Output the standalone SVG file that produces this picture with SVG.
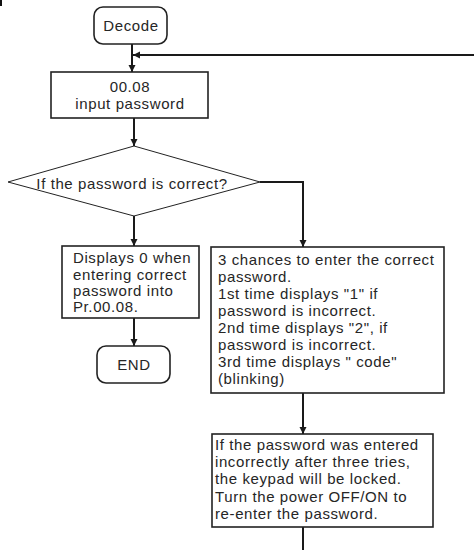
<svg xmlns="http://www.w3.org/2000/svg" width="474" height="550" viewBox="0 0 474 550">
<style>
.box{fill:#fff;stroke:#222;stroke-width:1.6}
.ln{fill:none;stroke:#1a1a1a;stroke-width:2}
.t{font-family:"Liberation Sans",Arial,sans-serif;font-size:15px;letter-spacing:0.6px;fill:#262626}
.c{text-anchor:middle}
</style>
<defs>
<marker id="ah" markerWidth="8" markerHeight="8" refX="7" refY="4" orient="auto" markerUnits="userSpaceOnUse">
<path d="M0,0.5 L7,4 L0,7.5 Z" fill="#1a1a1a"/>
</marker>
</defs>
<rect x="0" y="0" width="2" height="6" fill="#111"/>
<g id="connectors">
<line class="ln" x1="132" y1="44" x2="132" y2="72" marker-end="url(#ah)"/>
<line class="ln" x1="474" y1="55" x2="133" y2="55" marker-end="url(#ah)"/>
<line class="ln" x1="134" y1="118" x2="134" y2="146" marker-end="url(#ah)"/>
<polyline class="ln" points="260,182 303,182 303,247" marker-end="url(#ah)"/>
<line class="ln" x1="134" y1="216" x2="134" y2="246" marker-end="url(#ah)"/>
<line class="ln" x1="134" y1="318" x2="134" y2="346" marker-end="url(#ah)"/>
<line class="ln" x1="303" y1="393" x2="303" y2="434" marker-end="url(#ah)"/>
<line class="ln" x1="303" y1="527" x2="303" y2="550"/>
</g>
<g id="decode">
<rect class="box" x="94" y="7" width="73" height="37" rx="9"/>
<text class="t c" x="131" y="31">Decode</text>
</g>
<g id="input">
<rect class="box" x="51" y="72" width="157" height="46"/>
<text class="t c" x="130" y="92">00.08</text>
<text class="t c" x="130" y="109">input password</text>
</g>
<g id="decision">
<polygon fill="#fff" stroke="#222" stroke-width="1" points="134,146 260,182 134,216 8,182"/>
<text class="t c" x="132" y="189">If the password is correct?</text>
</g>
<g id="correct">
<rect class="box" x="62" y="246" width="137" height="72"/>
<text class="t" x="73" y="263">Displays 0 when</text>
<text class="t" x="73" y="279.5">entering correct</text>
<text class="t" x="73" y="296">password into</text>
<text class="t" x="73" y="312">Pr.00.08.</text>
</g>
<g id="end">
<rect class="box" x="97" y="346" width="73" height="37" rx="9"/>
<text class="t c" x="134" y="370">END</text>
</g>
<g id="chances">
<rect class="box" x="211" y="247" width="233" height="146"/>
<text class="t" x="218" y="265">3 chances to enter the correct</text>
<text class="t" x="218" y="282">password.</text>
<text class="t" x="218" y="299">1st time displays "1" if</text>
<text class="t" x="218" y="316">password is incorrect.</text>
<text class="t" x="218" y="333">2nd time displays "2", if</text>
<text class="t" x="218" y="350">password is incorrect.</text>
<text class="t" x="218" y="367">3rd time displays " code"</text>
<text class="t" x="218" y="384">(blinking)</text>
</g>
<g id="locked">
<rect class="box" x="212" y="434" width="221" height="93"/>
<text class="t" x="215" y="450">If the password was entered</text>
<text class="t" x="215" y="467">incorrectly after three tries,</text>
<text class="t" x="215" y="484">the keypad will be locked.</text>
<text class="t" x="215" y="502">Turn the power OFF/ON to</text>
<text class="t" x="215" y="519">re-enter the password.</text>
</g>
</svg>
